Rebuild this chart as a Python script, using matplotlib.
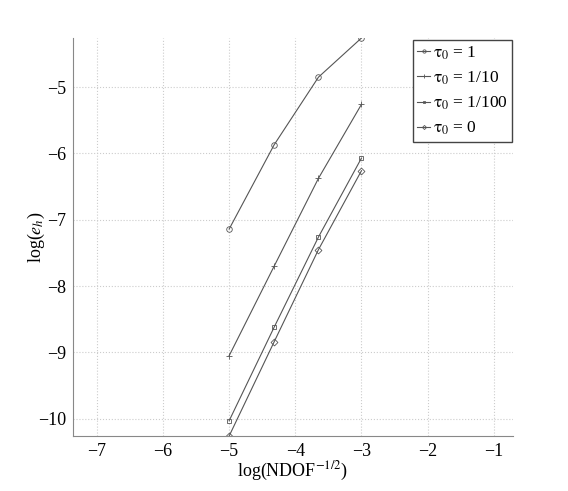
import matplotlib
matplotlib.use('Agg')
import matplotlib.pyplot as plt
import numpy as np

plt.rcParams['font.family'] = ['Liberation Serif', 'DejaVu Serif']
plt.rcParams['mathtext.fontset'] = 'stix'

x = [-5, -4.32, -3.65, -3]
tau_1 = [-7.14, -5.87, -4.85, -4.26]
tau_10 = [-9.05, -7.70, -6.375, -5.26]
tau_100 = [-10.03, -8.62, -7.26, -6.07]
tau_0 = [-10.26, -8.84, -7.45, -6.26]
labels = [r'$\mathrm{\tau}_0$ = 1', r'$\mathrm{\tau}_0$ = 1/10',
          r'$\mathrm{\tau}_0$ = 1/100', r'$\mathrm{\tau}_0$ = 0']

fig = plt.figure(figsize=(5.68, 4.91), dpi=100)
ax = fig.add_axes([73 / 568, 1 - 436 / 491, 440 / 568, 398 / 491])

col = '#555555'
ax.plot(x, tau_1, color=col, lw=0.8, marker='o', ms=4, mfc='none', mew=0.6, label=labels[0])
ax.plot(x, tau_10, color=col, lw=0.8, marker='+', ms=5, mew=0.6, label=labels[1])
ax.plot(x, tau_100, color=col, lw=0.8, marker='s', ms=3.5, mfc='none', mew=0.6, label=labels[2])
ax.plot(x, tau_0, color=col, lw=0.8, marker='D', ms=3.5, mfc='none', mew=0.6, label=labels[3])

ax.set_xlim(-7.36, -0.71)
ax.set_ylim(-10.26, -4.26)
ax.set_xticks(np.arange(-7, 0))
ax.set_yticks(np.arange(-10, -4))
ax.tick_params(labelsize=13, direction='in', length=0, pad=5)
ax.grid(True, ls=':', color='#cccccc', lw=0.8)
for s in ['top', 'right']:
    ax.spines[s].set_visible(False)
for s in ['left', 'bottom']:
    ax.spines[s].set_color('#888888')

ax.set_xlabel(r'log(NDOF$^{-1/2}$)', fontsize=13, labelpad=0)
ax.set_ylabel(r'log($e_h$)', fontsize=13)
ax.yaxis.set_label_coords(-0.058, 0.5)

leg = ax.legend(loc='upper right', bbox_to_anchor=(0.998, 0.995), fontsize=12.5, handlelength=0.75,
                handletextpad=0.15, borderpad=0.25, labelspacing=0.45, fancybox=False,
                framealpha=1, borderaxespad=0.0, markerscale=0.6)
leg.get_frame().set_edgecolor('#444444')
leg.get_frame().set_linewidth(1.0)

fig.savefig('out.png', dpi=100)
